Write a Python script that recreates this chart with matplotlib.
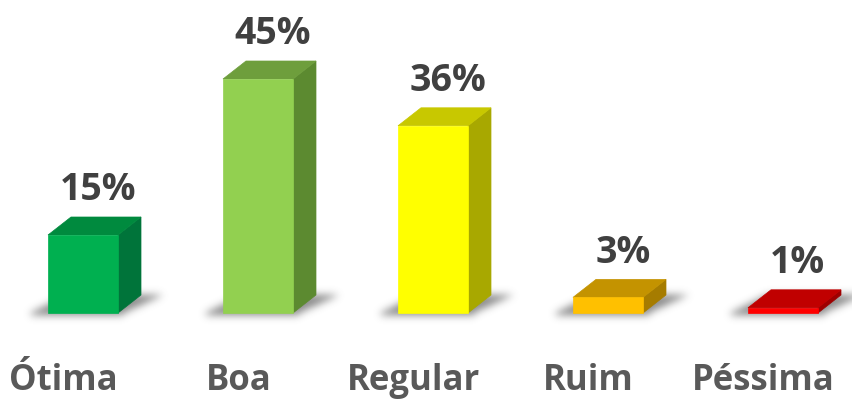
import numpy as np
import matplotlib
matplotlib.use("Agg")
import matplotlib.pyplot as plt
from matplotlib.patches import Polygon

categorias = ["Ótima", "Boa", "Regular", "Ruim", "Péssima"]
valores = [15, 45, 36, 3, 1]
rotulos = ["15%", "45%", "36%", "3%", "1%"]

cor_frente = ["#00B050", "#92D050", "#FFFF00", "#FFC000", "#FF0000"]
cor_topo = ["#008A3E", "#6E9E3C", "#C8C800", "#C49300", "#C00000"]
cor_lado = ["#00743A", "#5C8A30", "#A8A800", "#A67C00", "#9E0000"]

plt.rcParams["font.family"] = ["Open Sans", "DejaVu Sans"]

W, H = 853, 400
fig = plt.figure(figsize=(W / 100, H / 100), dpi=100)
ax = fig.add_axes([0, 0, 1, 1])

# escala: 175 px entre barras, 5.2 px por ponto percentual, base em y=313 px
px_x = 175.0
px_y = 5.2
ax.set_xlim(-83 / px_x, (W - 83) / px_x)
ax.set_ylim((313 - H) / px_y, 313 / px_y)
ax.axis("off")

largura = 0.4
dx = 23 / px_x
dy = 18 / px_y


def sombra(ax, x0, x1):
    # sombra difusa no chão, paralelogramo um pouco maior que a base
    pad = 30
    larg_px = (x1 - x0) * px_x
    dxp, dyp = dx * px_x, dy * px_y
    gx = np.arange(-pad, larg_px + dxp + pad)
    gy = np.arange(-pad // 2, dyp + pad // 2)
    xx, yy = np.meshgrid(gx, gy)
    t = np.clip(yy / dyp, 0, 1)
    esq = -18 + t * (dxp + 13)
    dir_ = larg_px + 6 + t * (dxp + 16)
    m = ((xx > esq) & (xx < dir_) & (yy > -3) & (yy < dyp + 1)).astype(float)
    k = np.exp(-0.5 * (np.arange(-12, 13) / 4.0) ** 2)
    k /= k.sum()
    m = np.apply_along_axis(lambda r: np.convolve(r, k, mode="same"), 1, m)
    m = np.apply_along_axis(lambda c: np.convolve(c, k, mode="same"), 0, m)
    img = np.zeros(m.shape + (4,))
    img[..., :3] = 0.35
    img[..., 3] = m * 0.7
    ext = (x0 + gx[0] / px_x, x0 + gx[-1] / px_x, gy[0] / px_y, gy[-1] / px_y)
    ax.imshow(img, extent=ext, origin="lower", aspect="auto",
              interpolation="bilinear", zorder=1)


for i, v in enumerate(valores):
    x0 = i - largura / 2
    x1 = i + largura / 2
    sombra(ax, x0, x1)
    frente = [(x0, 0), (x1, 0), (x1, v), (x0, v)]
    lado = [(x1, 0), (x1 + dx, dy), (x1 + dx, v + dy), (x1, v)]
    topo = [(x0, v), (x1, v), (x1 + dx, v + dy), (x0 + dx, v + dy)]
    for pts, c in ((lado, cor_lado[i]), (topo, cor_topo[i]), (frente, cor_frente[i])):
        ax.add_patch(Polygon(pts, closed=True, facecolor=c, edgecolor=c,
                             linewidth=0.5, zorder=2))
    ax.text(i + 0.085, v + 8.6, rotulos[i], ha="center", va="center",
            fontsize=27, fontweight="bold", color="#404040", zorder=3)
    ax.text(i - 0.11, -13.0, categorias[i], ha="center", va="center",
            fontsize=25, fontweight="bold", color="#595959", zorder=3)

fig.savefig("out.png", dpi=100, facecolor="white")
